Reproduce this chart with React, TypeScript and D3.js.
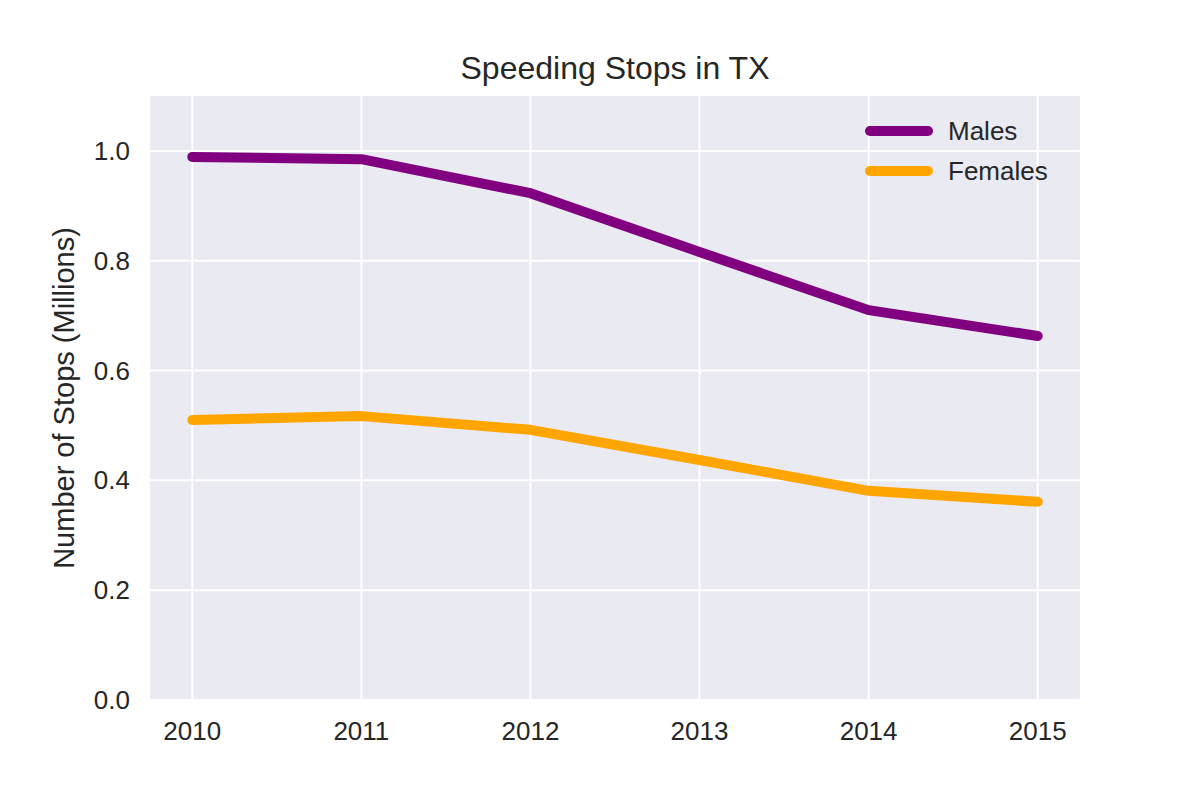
import * as d3 from "d3";

const years = [2010, 2011, 2012, 2013, 2014, 2015];
const males = [0.989, 0.985, 0.923, 0.816, 0.71, 0.663];
const females = [0.51, 0.517, 0.492, 0.437, 0.381, 0.361];
const yTicks = [0, 0.2, 0.4, 0.6, 0.8, 1.0];
const seriesNames = ["Males", "Females"];
const seriesColors = ["#800080", "#ffa500"];

export default function App() {
  const width = 1200;
  const height = 800;
  const left = 150, right = 1080, top = 96, bottom = 700;

  const x = d3.scaleLinear().domain([2009.75, 2015.25]).range([left, right]);
  const y = d3.scaleLinear().domain([0, 1.1]).range([bottom, top]);
  const line = d3
    .line<number>()
    .x((_, i) => x(years[i]))
    .y((d) => y(d));
  const series = [males, females];
  const font = "'Liberation Sans', Arial, sans-serif";

  return (
    <svg
      width={width}
      height={height}
      style={{ position: "absolute", left: 0, top: 0, background: "#fff" }}
      fontFamily={font}
    >
      <rect x={left} y={top} width={right - left} height={bottom - top} fill="#eaeaf2" />
      {yTicks.map((t) => (
        <line key={"gy" + t} x1={left} x2={right} y1={y(t)} y2={y(t)} stroke="#fff" strokeWidth={2} />
      ))}
      {years.map((yr) => (
        <line key={"gx" + yr} x1={x(yr)} x2={x(yr)} y1={top} y2={bottom} stroke="#fff" strokeWidth={2} />
      ))}
      {series.map((s, i) => (
        <path
          key={seriesNames[i]}
          d={line(s) ?? ""}
          fill="none"
          stroke={seriesColors[i]}
          strokeWidth={10}
          strokeLinecap="round"
          strokeLinejoin="round"
        />
      ))}
      {yTicks.map((t) => (
        <text key={"ty" + t} x={left - 20} y={y(t)} dy="0.35em" textAnchor="end" fontSize={26} fill="#262626">
          {t.toFixed(1)}
        </text>
      ))}
      {years.map((yr) => (
        <text key={"tx" + yr} x={x(yr)} y={bottom + 40} textAnchor="middle" fontSize={26} fill="#262626">
          {yr}
        </text>
      ))}
      <text
        transform={`translate(74, ${(top + bottom) / 2}) rotate(-90)`}
        textAnchor="middle"
        fontSize={29}
        fill="#262626"
      >
        Number of Stops (Millions)
      </text>
      <text x={(left + right) / 2} y={79} textAnchor="middle" fontSize={32} fill="#262626">
        Speeding Stops in TX
      </text>
      {seriesNames.map((n, i) => (
        <g key={"lg" + n} transform={`translate(0, ${131 + i * 40})`}>
          <line x1={870} x2={928} y1={0} y2={0} stroke={seriesColors[i]} strokeWidth={10} strokeLinecap="round" />
          <text x={948} y={0} dy="0.35em" fontSize={26} fill="#262626">
            {n}
          </text>
        </g>
      ))}
    </svg>
  );
}
